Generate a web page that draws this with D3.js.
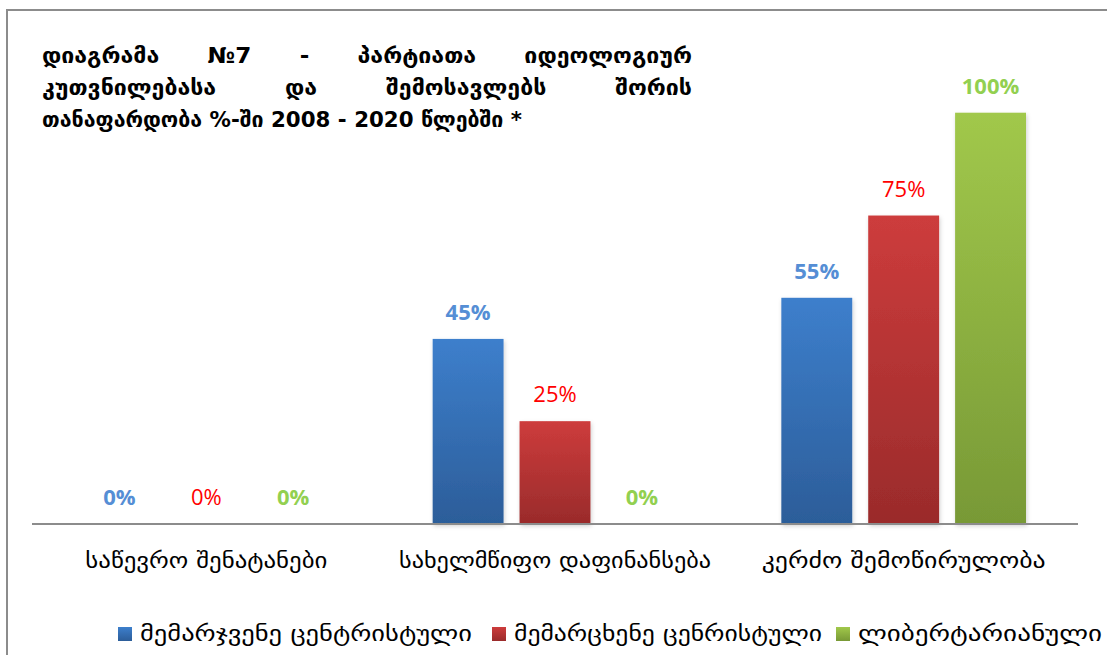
<!DOCTYPE html>
<html><head><meta charset="utf-8">
<script src="https://cdn.jsdelivr.net/npm/d3@7"></script>
<style>
html,body{margin:0;padding:0;background:#fff;overflow:hidden}
svg{display:block}
</style></head>
<body>
<svg id="chart" width="1107" height="655"></svg>
<script>
// ---- data ----
const categories = ["საწევრო შენატანები", "სახელმწიფო დაფინანსება", "კერძო შემოწირულობა"];
const seriesNames = ["მემარჯვენე ცენტრისტული", "მემარცხენე ცენრისტული", "ლიბერტარიანული"];
const rightCentrist = [0, 45, 55];
const leftCentrist = [0, 25, 75];
const libertarian = [0, 0, 100];
const titleLines = [
  ["დიაგრამა", "№7", "-", "პარტიათა", "იდეოლოგიურ"],
  ["კუთვნილებასა", "და", "შემოსავლებს", "შორის"],
  ["თანაფარდობა %-ში 2008 - 2020 წლებში *"]
];

const seriesValues = [rightCentrist, leftCentrist, libertarian];
const barTop = ["#3d7fcc", "#cd3c3c", "#a1c84b"];
const barBottom = ["#2c5d99", "#9a2b2b", "#789936"];
const labelColors = ["#558ed5", "#ff0000", "#92d050"];
const labelWeights = ["bold", "normal", "bold"];

const svg = d3.select("#chart");
const W = 1107, H = 655;
const geoFont = "'DejaVu Sans', 'Noto Sans', sans-serif";
const numFont = "'Open Sans', 'Noto Sans', sans-serif";

// frame
svg.append("rect").attr("x", 7).attr("y", 10).attr("width", W + 50).attr("height", H + 50)
  .attr("fill", "#fff").attr("stroke", "#8c8c8c").attr("stroke-width", 2);

const defs = svg.append("defs");
seriesNames.forEach((s, i) => {
  const g = defs.append("linearGradient").attr("id", "grad" + i)
    .attr("x1", 0).attr("y1", 0).attr("x2", 0).attr("y2", 1);
  g.append("stop").attr("offset", "0%").attr("stop-color", barTop[i]);
  g.append("stop").attr("offset", "100%").attr("stop-color", barBottom[i]);
});
const f = defs.append("filter").attr("id", "shadow").attr("x", "-20%").attr("y", "-5%").attr("width", "140%").attr("height", "115%");
f.append("feDropShadow").attr("dx", 1).attr("dy", 2).attr("stdDeviation", 2).attr("flood-color", "#000").attr("flood-opacity", 0.18);

const plot = {left: 32, right: 1078, top: 112.7, bottom: 524};
const x0 = d3.scaleBand().domain(categories).range([plot.left, plot.right]).paddingInner(0).paddingOuter(0);
const x1 = d3.scaleBand().domain(seriesNames).range([52, x0.bandwidth() - 52]).paddingInner(0.184).paddingOuter(0);
const y = d3.scaleLinear().domain([0, 100]).range([plot.bottom, plot.top]);

// bars
seriesNames.forEach((s, si) => {
  const vals = seriesValues[si];
  svg.append("g").selectAll("rect").data(categories.map((c, ci) => ({c, v: vals[ci]})))
    .join("rect")
    .attr("x", d => x0(d.c) + x1(s))
    .attr("y", d => y(d.v))
    .attr("width", x1.bandwidth())
    .attr("height", d => y(0) - y(d.v))
    .attr("fill", `url(#grad${si})`)
    .attr("filter", "url(#shadow)");
  svg.append("g").selectAll("text").data(categories.map((c, ci) => ({c, v: vals[ci]})))
    .join("text")
    .attr("x", d => x0(d.c) + x1(s) + x1.bandwidth() / 2)
    .attr("y", d => y(d.v) - 19)
    .attr("text-anchor", "middle")
    .attr("font-family", numFont)
    .attr("font-size", 22)
    .attr("font-weight", labelWeights[si])
    .attr("fill", labelColors[si])
    .text(d => d.v + "%");
});

// axis
const xAxis = d3.axisBottom(x0).tickSize(0).tickPadding(0);
const ax = svg.append("g").attr("transform", `translate(0,${plot.bottom})`).call(xAxis);
ax.select(".domain").attr("stroke", "#8c8c8c").attr("stroke-width", 2).attr("d", `M${plot.left},0H${plot.right}`);
const catWidths = [242, 312, 284];
ax.selectAll(".tick text")
  .attr("y", 44).attr("dy", 0)
  .attr("font-family", geoFont).attr("font-size", 21).attr("fill", "#000")
  .each(function(d, i) {
    d3.select(this).attr("textLength", catWidths[i]).attr("lengthAdjust", "spacingAndGlyphs");
  });

// title (justified)
const tLeft = 42, tRight = 692;
const tBase = [63, 95, 127];
const tStretch = 1.05;
titleLines.forEach((words, li) => {
  const g = svg.append("g");
  const ts = words.map(w => g.append("text").attr("font-family", geoFont).attr("font-size", 22)
    .attr("font-weight", "bold").attr("fill", "#000").attr("y", tBase[li]).text(w));
  const widths = ts.map(t => t.node().getComputedTextLength() * tStretch);
  ts.forEach((t, i) => t.attr("textLength", widths[i]).attr("lengthAdjust", "spacingAndGlyphs"));
  if (words.length > 1) {
    const total = d3.sum(widths);
    const gap = (tRight - tLeft - total) / (words.length - 1);
    let cx = tLeft;
    ts.forEach((t, i) => { t.attr("x", cx); cx += widths[i] + gap; });
  } else {
    ts[0].attr("x", tLeft).attr("textLength", 480);
  }
});

// legend
const legX = [118, 492, 836];
const legW = [332, 308, 244];
const legend = svg.append("g");
seriesNames.forEach((s, i) => {
  legend.append("rect").attr("x", legX[i]).attr("y", 627).attr("width", 14).attr("height", 14)
    .attr("fill", `url(#grad${i})`);
  legend.append("text").attr("x", legX[i] + 22).attr("y", 641)
    .attr("font-family", geoFont).attr("font-size", 21).attr("fill", "#000")
    .attr("textLength", legW[i]).attr("lengthAdjust", "spacingAndGlyphs")
    .text(s);
});
</script>
</body></html>
